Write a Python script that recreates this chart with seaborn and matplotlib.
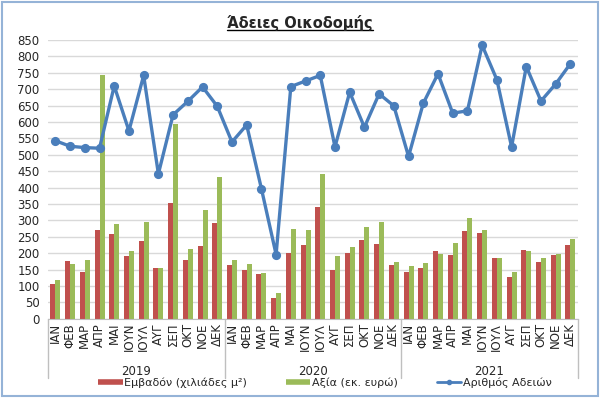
import numpy as np
import pandas as pd
import matplotlib
matplotlib.use("Agg")
import matplotlib.pyplot as plt
from matplotlib.lines import Line2D
from matplotlib.patches import Rectangle
import seaborn as sns

# -----------------------------
# Data
# -----------------------------
months = ["ΙΑΝ", "ΦΕΒ", "ΜΑΡ", "ΑΠΡ", "ΜΑΙ", "ΙΟΥΝ",
          "ΙΟΥΛ", "ΑΥΓ", "ΣΕΠ", "ΟΚΤ", "ΝΟΕ", "ΔΕΚ"]
years = ["2019", "2020", "2021"]

area = [106, 176, 142, 270, 258, 190, 236, 154, 352, 180, 222, 293,
        165, 150, 136, 62, 201, 225, 341, 148, 201, 240, 228, 164,
        143, 156, 206, 193, 269, 263, 186, 126, 210, 174, 195, 225]
value = [117, 167, 178, 742, 288, 208, 295, 156, 593, 214, 332, 433,
         178, 167, 140, 80, 275, 270, 442, 191, 219, 280, 295, 172,
         160, 170, 198, 230, 307, 271, 184, 143, 206, 186, 198, 242]
permits = [543, 526, 522, 520, 710, 573, 742, 442, 622, 663, 707, 648,
           539, 591, 397, 196, 708, 725, 742, 524, 691, 584, 686, 649,
           495, 657, 747, 627, 634, 834, 729, 524, 769, 664, 716, 778]

area_label = "Εμβαδόν (χιλιάδες μ²)"
value_label = "Αξία (εκ. ευρώ)"
permits_label = "Αριθμός Αδειών"

RED = "#C0504D"
GREEN = "#9BBB59"
BLUE = "#4A7EBB"

periods = [f"{y}-{m}" for y in years for m in months]

bars = pd.DataFrame({
    "period": periods * 2,
    "series": [area_label] * len(periods) + [value_label] * len(periods),
    "val": area + value,
})
line = pd.DataFrame({"period": periods, "permits": permits})

# -----------------------------
# Figure
# -----------------------------
sns.set_style("white")
plt.rcParams["font.family"] = ["DejaVu Sans"]

fig = plt.figure(figsize=(6, 3.98), dpi=100)
ax = fig.add_axes([0.08, 0.199, 0.883, 0.7005])

sns.barplot(data=bars, x="period", y="val", hue="series",
            order=periods, hue_order=[area_label, value_label],
            palette={area_label: RED, value_label: GREEN},
            width=0.68, gap=0, saturation=1, linewidth=0,
            legend=False, ax=ax)

sns.pointplot(data=line, x="period", y="permits", order=periods,
              color=BLUE, markers="o", markersize=4.8, linewidth=2.4,
              errorbar=None, ax=ax)
for c in ax.collections:
    c.set_clip_on(False)

ax.set_ylim(0, 850)
ax.set_xlim(-0.5, len(periods) - 0.5)
ax.set_yticks(range(0, 851, 50))
ax.grid(axis="y", color="#D9D9D9", lw=1)
ax.set_axisbelow(True)
for s in ["left", "right", "top"]:
    ax.spines[s].set_visible(False)
ax.spines["bottom"].set_color("#BFBFBF")

ax.set_xticks(range(len(periods)))
ax.set_xticklabels(months * len(years), rotation=90, fontsize=8.5)
ax.tick_params(axis="x", length=0, pad=3)
ax.tick_params(axis="y", length=0, pad=6, labelsize=8.5)
ax.set_xlabel("")
ax.set_ylabel("")

# year separators and labels
trans = ax.get_xaxis_transform()
for k in range(len(years) + 1):
    xs = k * 12 - 0.5
    ax.plot([xs, xs], [0, -0.213], transform=trans, color="#BFBFBF",
            lw=1, clip_on=False)
for k, y in enumerate(years):
    ax.text(k * 12 + 5.5, -0.188, y, transform=trans, ha="center",
            va="center", fontsize=8.5)

# legend
handles = [
    Line2D([0], [0], color=RED, lw=4, solid_capstyle="butt"),
    Line2D([0], [0], color=GREEN, lw=4, solid_capstyle="butt"),
    Line2D([0], [0], color=BLUE, lw=2, marker="o", markersize=3),
]
fig.legend(handles, [area_label, value_label, permits_label],
           loc="center", bbox_to_anchor=(325 / 600, 1 - 383 / 398),
           ncol=3, frameon=False, fontsize=8, handlelength=2.2,
           handletextpad=0.15, columnspacing=3.5)

# title with underline
title = fig.text(0.5, 0.942, "Άδειες Οικοδομής", ha="center",
                 va="center", fontsize=10.5, fontweight="bold")
fig.canvas.draw()
bb = title.get_window_extent().transformed(fig.transFigure.inverted())
fig.add_artist(Line2D([bb.x0, bb.x1], [bb.y0 + 0.002, bb.y0 + 0.002],
                      color="black", lw=1, transform=fig.transFigure))

# outer border
fig.add_artist(Rectangle((0.003, 0.004), 0.994, 0.992,
                         transform=fig.transFigure, fill=False,
                         edgecolor="#95B3D7", lw=1.5))

fig.savefig("out.png", dpi=100)
